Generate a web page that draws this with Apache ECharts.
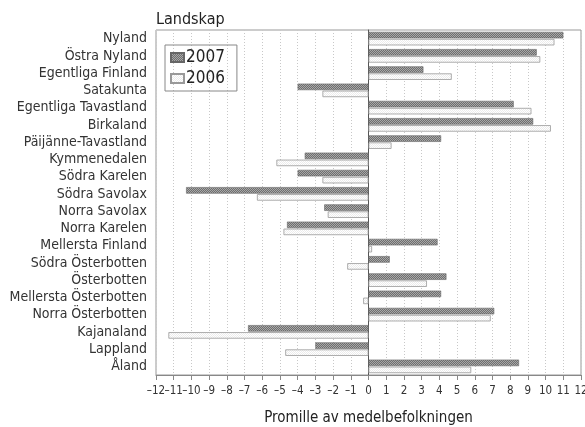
<!DOCTYPE html>
<html><head><meta charset="utf-8">
<script src="https://cdn.jsdelivr.net/npm/echarts@6/dist/echarts.min.js"></script>
<style>html,body{margin:0;padding:0;background:#fff}#c{width:585px;height:427px}</style>
</head><body><div id="c"></div>
<script>
const regions = ["Nyland","Östra Nyland","Egentliga Finland","Satakunta","Egentliga Tavastland","Birkaland","Päijänne-Tavastland","Kymmenedalen","Södra Karelen","Södra Savolax","Norra Savolax","Norra Karelen","Mellersta Finland","Södra Österbotten","Österbotten","Mellersta Österbotten","Norra Österbotten","Kajanaland","Lappland","Åland"];
const values2007 = [11.0, 9.5, 3.1, -4.0, 8.2, 9.3, 4.1, -3.6, -4.0, -10.3, -2.5, -4.6, 3.9, 1.2, 4.4, 4.1, 7.1, -6.8, -3.0, 8.5];
const values2006 = [10.5, 9.7, 4.7, -2.6, 9.2, 10.3, 1.3, -5.2, -2.6, -6.3, -2.3, -4.8, 0.2, -1.2, 3.3, -0.3, 6.9, -11.3, -4.7, 5.8];
const seriesNames = ["2007","2006"];
const xMin = -12, xMax = 12;

function makePattern(a, b) {
  const c = document.createElement('canvas');
  c.width = 4; c.height = 4;
  const g = c.getContext('2d');
  g.fillStyle = a; g.fillRect(0,0,4,4);
  g.fillStyle = b;
  for (let i=0;i<4;i++){ g.fillRect(i, i, 1, 1); g.fillRect((i+2)%4, i, 1, 1); }
  return c;
}
const darkPat = makePattern('#6e6e6e', '#a8a8a8');
const lightPat = makePattern('#ffffff', '#ececec');

const chart = echarts.init(document.getElementById('c'), null, {renderer:'canvas'});
const font = '"DejaVu Sans Condensed", "DejaVu Sans", sans-serif';
const fmtNum = v => (v < 0 ? '\u2013' + Math.abs(v) : String(v));
const labelStyle = { fontFamily: font, fontSize: 11.5, color: '#333', margin: 10, hideOverlap: false };
chart.setOption({
  animation: false,
  title: { text: 'Landskap', left: 151, top: 7, textStyle: { fontFamily: font, fontSize: 16, fontWeight: 'normal', color: '#222' } },
  legend: {
    orient: 'vertical', left: 165, top: 45, data: seriesNames,
    borderColor: '#888', borderWidth: 1, padding: [4, 12, 4, 5], itemGap: 4,
    itemWidth: 13, itemHeight: 9, icon: 'rect',
    textStyle: { fontFamily: font, fontSize: 17, color: '#222', padding: [0,0,0,-3] }
  },
  grid: { left: 156, right: 4, top: 30, bottom: 52, show: true, borderColor: '#999', borderWidth: 1, outerBoundsMode: 'none', containLabel: false },
  xAxis: [{
    type: 'value', min: xMin, max: xMax, interval: 1,
    name: 'Promille av medelbefolkningen', nameLocation: 'middle', nameGap: 36,
    nameTextStyle: { fontFamily: font, fontSize: 15, color: '#222' },
    axisLine: { show: true, lineStyle: { color: '#888' } },
    axisTick: { show: true, length: 5, lineStyle: { color: '#888' } },
    axisLabel: Object.assign({}, labelStyle, { showMinLabel: true, showMaxLabel: true,
      formatter: v => (v === xMin ? '' : fmtNum(v)) }),
    splitLine: { show: true, lineStyle: { color: '#c8c8c8', type: [1, 2] } }
  }, {
    type: 'value', min: xMin, max: xMax, interval: 1, position: 'bottom', gridIndex: 0,
    axisLine: { show: false }, axisTick: { show: false }, splitLine: { show: false },
    axisLabel: Object.assign({}, labelStyle, { showMinLabel: true, showMaxLabel: false,
      formatter: v => (v === xMin ? fmtNum(v) : '') })
  }],
  yAxis: {
    type: 'category', data: regions, inverse: true,
    axisLine: { show: true, onZero: true, lineStyle: { color: '#555', width: 1 } },
    axisTick: { show: false },
    axisLabel: { fontFamily: font, fontSize: 14, color: '#333', margin: 9, interval: 0 }
  },
  series: [
    { name: '2007', type: 'bar', data: values2007, barWidth: 6.5, barGap: '8%',
      itemStyle: { color: { image: darkPat, repeat: 'repeat' }, borderColor: '#666', borderWidth: 0.6 } },
    { name: '2006', type: 'bar', data: values2006, barWidth: 6.5,
      itemStyle: { color: { image: lightPat, repeat: 'repeat' }, borderColor: '#999', borderWidth: 0.8 } }
  ]
});
</script></body></html>
